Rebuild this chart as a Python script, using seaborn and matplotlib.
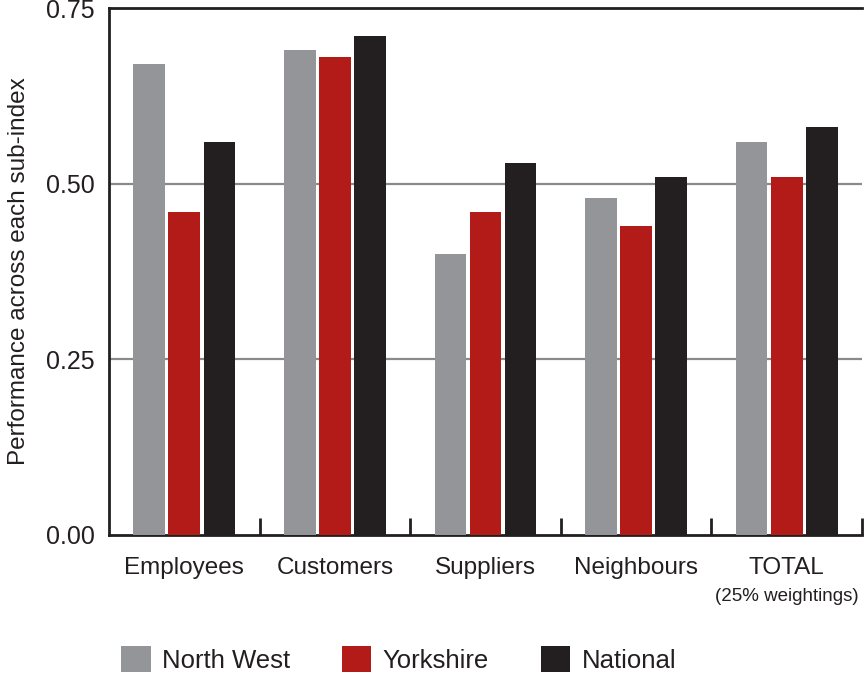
import matplotlib
matplotlib.use("Agg")
import matplotlib.pyplot as plt
import seaborn as sns
import pandas as pd
from matplotlib.patches import Patch

categories = ["Employees", "Customers", "Suppliers", "Neighbours", "TOTAL"]
regions = ["North West", "Yorkshire", "National"]
north_west = [0.67, 0.69, 0.40, 0.48, 0.56]
yorkshire = [0.46, 0.68, 0.46, 0.44, 0.51]
national = [0.56, 0.71, 0.53, 0.51, 0.58]
y_ticks = [0.00, 0.25, 0.50, 0.75]
y_tick_labels = ["0.00", "0.25", "0.50", "0.75"]
total_note = "(25% weightings)"

colors = ["#939598", "#b31b18", "#231f20"]
ink = "#231f20"

df = pd.DataFrame({
    "category": categories * 3,
    "region": [r for r in regions for _ in categories],
    "value": north_west + yorkshire + national,
})

sns.set_theme(style="white")
plt.rcParams["font.family"] = ["Liberation Sans", "DejaVu Sans"]
plt.rcParams["text.color"] = ink

fig = plt.figure(figsize=(8.66, 6.75), dpi=100)
ax = fig.add_axes([109 / 866, 1 - 535 / 675, (862 - 109) / 866, (535 - 8) / 675])

sns.barplot(data=df, x="category", y="value", hue="region", order=categories,
            hue_order=regions, palette=colors, width=0.7, gap=0.1,
            saturation=1, legend=False, linewidth=0, edgecolor="none",
            ax=ax, zorder=3)

ax.set_xlim(-0.5, len(categories) - 0.5)
ax.set_ylim(0, 0.75)
ax.set_yticks(y_ticks)
ax.set_yticklabels(y_tick_labels, fontsize=18, color=ink)
ax.set_xticks(range(len(categories)))
ax.set_xticklabels(categories, fontsize=17.5, color=ink)
ax.tick_params(axis="x", which="major", bottom=False, length=0, pad=16)
ax.tick_params(axis="y", which="major", left=False, length=0, pad=10)
ax.set_xticks([i + 0.5 for i in range(len(categories))], minor=True)
ax.tick_params(axis="x", which="minor", bottom=True, direction="in",
               length=12, width=2, color=ink)
ax.set_xlabel("")
ax.set_ylabel("Performance across each sub-index", fontsize=17.5, color=ink, labelpad=12)

for y in [0.25, 0.50]:
    ax.axhline(y, color="#8a8a8c", lw=1.6, zorder=1)

for side in ["left", "bottom", "top"]:
    ax.spines[side].set_visible(True)
    ax.spines[side].set_color(ink)
    ax.spines[side].set_linewidth(2)
ax.spines["right"].set_visible(False)

ax.annotate(total_note, xy=(len(categories) - 1, 0), xycoords=("data", "axes fraction"),
            xytext=(0, -38), textcoords="offset points", ha="center", va="top",
            fontsize=13.5, color=ink)

handles = [Patch(facecolor=c, edgecolor="none", label=r) for c, r in zip(colors, regions)]
fig.legend(handles=handles, loc="lower left", bbox_to_anchor=(98 / 866, -0.031),
           ncol=3, frameon=False, fontsize=18.5, handlelength=1.15, handleheight=1.15,
           handletextpad=0.45, columnspacing=2.0)

fig.savefig("out.png", dpi=100)
